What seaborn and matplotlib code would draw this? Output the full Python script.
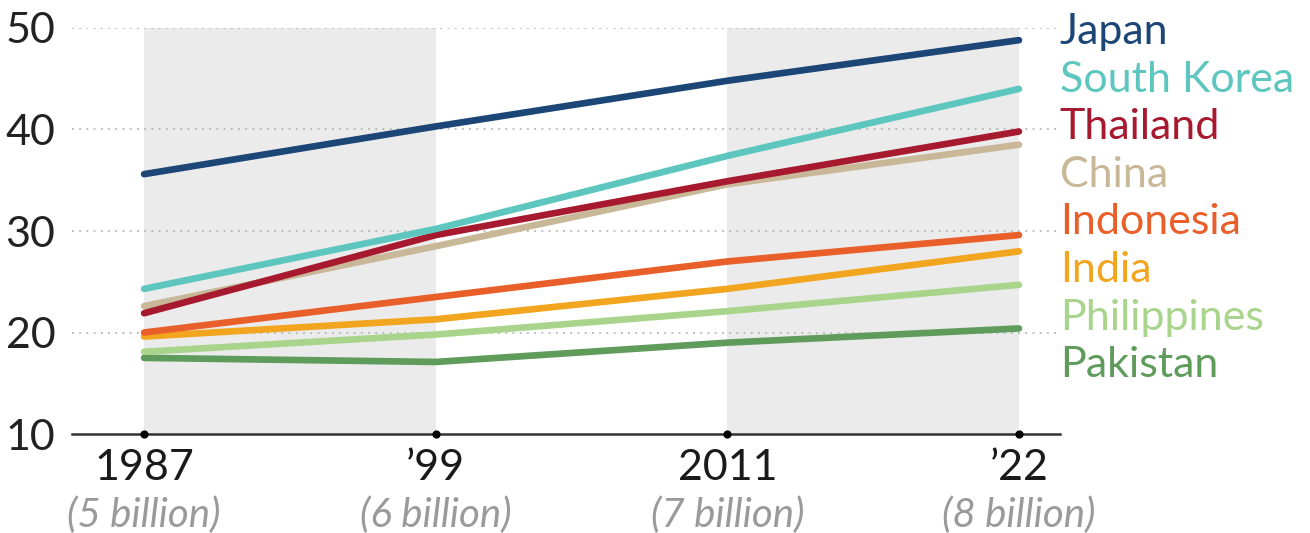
import matplotlib
matplotlib.use("Agg")
import matplotlib.pyplot as plt
import seaborn as sns
import pandas as pd

# ---- data ----
years = ["1987", "\u201999", "2011", "\u201922"]
pop_labels = ["(5 billion)", "(6 billion)", "(7 billion)", "(8 billion)"]
countries = ["Japan", "South Korea", "Thailand", "China", "Indonesia", "India", "Philippines", "Pakistan"]
japan = [35.6, 40.3, 44.8, 48.8]
south_korea = [24.3, 30.2, 37.4, 44.0]
thailand = [21.9, 29.6, 34.9, 39.8]
china = [22.6, 28.5, 34.6, 38.5]
indonesia = [20.0, 23.5, 27.0, 29.6]
india = [19.6, 21.3, 24.3, 28.0]
philippines = [18.1, 19.8, 22.1, 24.7]
pakistan = [17.5, 17.1, 19.0, 20.4]
colors = ["#1b4676", "#5cc6bf", "#a6192e", "#c8b898", "#e95f2a", "#f2a51e", "#a9d48b", "#5f9c5b"]
yticks = [10, 20, 30, 40, 50]

series = [japan, south_korea, thailand, china, indonesia, india, philippines, pakistan]
rows = []
for c, vals in zip(countries, series):
    for i, v in enumerate(vals):
        rows.append({"country": c, "xi": i, "age": v})
df = pd.DataFrame(rows)

sns.set_theme(style="white")
plt.rcParams["font.family"] = ["Lato", "DejaVu Sans"]

fig = plt.figure(figsize=(13.1, 5.33), dpi=100)
ax = fig.add_axes([0.055, 0.1857, 0.754, 0.7618])

xs = list(range(len(years)))
# shaded bands
for a, b in [(xs[0], xs[1]), (xs[2], xs[3])]:
    ax.fill_between([a, b], 10, 50, color="#ebebeb", lw=0, zorder=0)

for y in yticks[1:]:
    ax.axhline(y, color="#b5b5b5", lw=1.3, ls=(0, (1, 3)), zorder=0.5)

palette = dict(zip(countries, colors))
sns.lineplot(data=df, x="xi", y="age", hue="country", hue_order=countries[::-1],
             palette=palette, lw=4.8, legend=False, ax=ax,
             solid_capstyle="round", clip_on=False, zorder=3)

ax.set_xlim(-0.247, 3.14)
ax.set_ylim(10, 50)
ax.set_xlabel("")
ax.set_ylabel("")
ax.set_xticks(xs)
ax.set_xticklabels(years, fontsize=31, color="#1a1a1a")
ax.set_yticks(yticks)
ax.set_yticklabels([str(t) for t in yticks], fontsize=31, color="#222222")
ax.tick_params(axis="y", length=0, pad=12)
ax.tick_params(axis="x", length=0, pad=11)
for s in ["left", "right", "top"]:
    ax.spines[s].set_visible(False)
ax.spines["bottom"].set_color("#333333")
ax.spines["bottom"].set_linewidth(1.8)

# tick dots
ax.scatter(xs, [10] * len(xs), s=24, color="black", zorder=5, clip_on=False)

# population labels
trans = ax.get_xaxis_transform()
for x, lab in zip(xs, pop_labels):
    ax.text(x, -0.2, lab, transform=trans, ha="center", va="center",
            fontsize=29, style="italic", color="#9a9a9a")

# country labels
y0, step = 49.6, 4.69
for k, (c, col) in enumerate(zip(countries, colors)):
    ax.text(1.0, y0 - k * step, c, transform=ax.get_yaxis_transform(),
            ha="left", va="center", fontsize=31, color=col)

fig.savefig("out.png", dpi=100)
